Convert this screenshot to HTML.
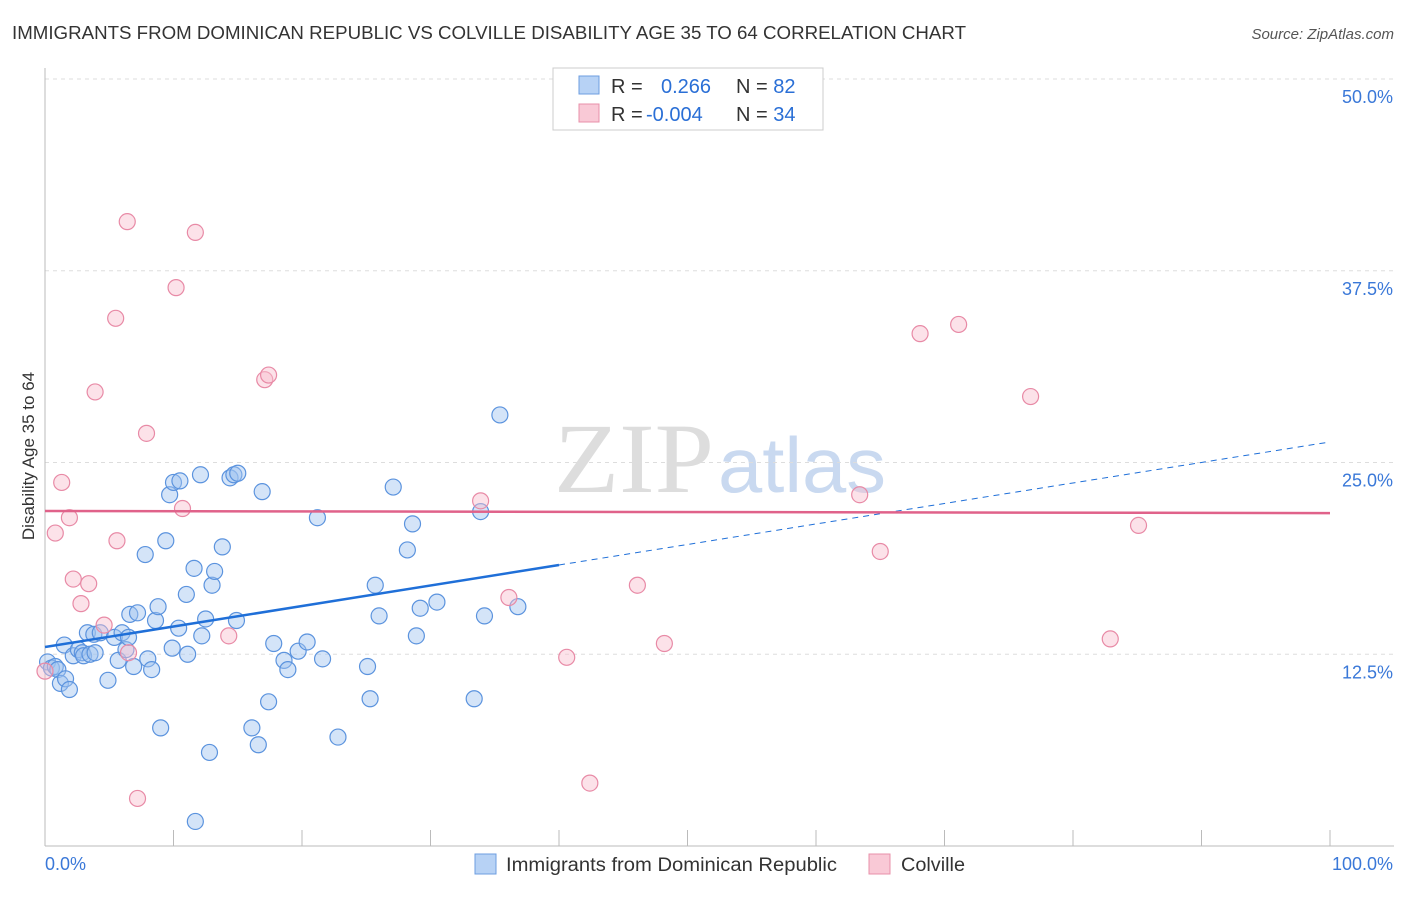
<!DOCTYPE html>
<html><head><meta charset="utf-8"><style>
body{margin:0;background:#fff;font-family:"Liberation Sans",sans-serif}
</style></head><body>
<svg id="c" width="1406" height="892" xmlns="http://www.w3.org/2000/svg">
<text x="12" y="39" font-size="18" fill="#333" textLength="954" lengthAdjust="spacingAndGlyphs">IMMIGRANTS FROM DOMINICAN REPUBLIC VS COLVILLE DISABILITY AGE 35 TO 64 CORRELATION CHART</text>
<text x="1394" y="39" font-size="15" fill="#555" font-style="italic" text-anchor="end">Source: ZipAtlas.com</text>
<text x="554" y="492" font-size="100" fill="#ddd" textLength="160" lengthAdjust="spacingAndGlyphs" font-family="Liberation Serif">ZIP</text>
<text x="718" y="492" font-size="78" fill="#c9d9f0" textLength="168" lengthAdjust="spacingAndGlyphs">atlas</text>
<text transform="translate(34,456) rotate(-90)" font-size="17" fill="#333" text-anchor="middle">Disability Age 35 to 64</text>
<g id="grid"></g><g id="axes"></g><g id="pts"></g><g id="lines"></g>
<g>
<rect x="553" y="68" width="270" height="62" fill="#fff" stroke="#ccc"/>
<rect x="579" y="76" width="20" height="18" fill="#b7d2f5" stroke="#6c9ee0"/>
<rect x="579" y="104" width="20" height="18" fill="#f9c9d6" stroke="#e890aa"/>
<text x="611" y="93" font-size="20" fill="#333">R = <tspan fill="#2a6fd6" x="661">0.266</tspan><tspan x="736">N = </tspan><tspan fill="#2a6fd6">82</tspan></text>
<text x="611" y="121" font-size="20" fill="#333">R = <tspan fill="#2a6fd6" x="646">-0.004</tspan><tspan x="736">N = </tspan><tspan fill="#2a6fd6">34</tspan></text>
</g>
<g>
<rect x="475" y="854" width="21" height="20" fill="#b7d2f5" stroke="#6c9ee0"/>
<text x="506" y="871" font-size="19" fill="#333" textLength="331" lengthAdjust="spacingAndGlyphs">Immigrants from Dominican Republic</text>
<rect x="869" y="854" width="21" height="20" fill="#f9c9d6" stroke="#e890aa"/>
<text x="901" y="871" font-size="19" fill="#333" textLength="64" lengthAdjust="spacingAndGlyphs">Colville</text>
</g>
</svg>
<script>
const yTicks=[12.5,25,37.5,50];
const yTickLabels=["12.5%","25.0%","37.5%","50.0%"];
const blueX=[0.2,0.5,0.8,1.0,1.2,1.6,1.9,1.5,2.2,2.6,2.9,3.0,3.5,3.9,3.3,3.8,4.3,4.9,5.4,5.7,6.0,6.3,6.5,6.6,7.2,6.9,7.8,8.0,8.3,8.6,8.8,9.0,9.4,9.7,10.0,10.5,10.4,9.9,11.0,11.1,11.6,11.7,12.1,12.2,12.5,12.8,13.0,13.2,13.8,14.4,14.7,15.0,14.9,16.1,16.6,16.9,17.4,17.8,18.6,18.9,19.7,20.4,21.2,21.6,22.8,25.1,25.3,25.7,26.0,27.1,28.2,28.6,28.9,29.2,30.5,33.4,33.9,34.2,35.4,36.8];
const blueY=[12.0,11.6,11.7,11.5,10.6,10.9,10.2,13.1,12.4,12.8,12.6,12.4,12.5,12.6,13.9,13.8,13.9,10.8,13.6,12.1,13.9,12.8,13.6,15.1,15.2,11.7,19.0,12.2,11.5,14.7,15.6,7.7,19.9,22.9,23.7,23.8,14.2,12.9,16.4,12.5,18.1,1.6,24.2,13.7,14.8,6.1,17.0,17.9,19.5,24.0,24.2,24.3,14.7,7.7,6.6,23.1,9.4,13.2,12.1,11.5,12.7,13.3,21.4,12.2,7.1,11.7,9.6,17.0,15.0,23.4,19.3,21.0,13.7,15.5,15.9,9.6,21.8,15.0,28.1,15.6];
const pinkX=[0,0.8,1.3,1.9,2.2,2.8,3.4,3.9,4.6,5.5,5.6,6.4,6.5,7.2,7.9,10.2,10.7,11.7,14.3,17.1,17.4,33.9,36.1,40.6,42.4,46.1,48.2,63.4,65.0,68.1,71.1,76.7,82.9,85.1];
const pinkY=[11.4,20.4,23.7,21.4,17.4,15.8,17.1,29.6,14.4,34.4,19.9,40.7,12.6,3.1,26.9,36.4,22.0,40.0,13.7,30.4,30.7,22.5,16.2,12.3,4.1,17.0,13.2,22.9,19.2,33.4,34.0,29.3,13.5,20.9];
const blueTrend=[12.97,26.34];
const pinkTrend=[21.84,21.7];
const NS="http://www.w3.org/2000/svg";
const X=v=>45+v*12.85, Y=v=>846-v*15.34;
function mk(t,a,p){const e=document.createElementNS(NS,t);for(const k in a)e.setAttribute(k,a[k]);document.getElementById(p).appendChild(e);return e;}
yTicks.forEach((t,i)=>{
 const g=mk('line',{x1:45,x2:1394,y1:Y(t),y2:Y(t),stroke:'#ddd','stroke-dasharray':'4,4'},'grid');
 
 
 const l=mk('text',{x:1393,y:Y(t)+24,'font-size':18,fill:'#3a78d8','text-anchor':'end'},'grid');
 l.textContent=yTickLabels[i];
 
 
});
const ax=mk('line',{x1:45,x2:45,y1:68,y2:846,stroke:'#bbb'},'axes');


const bx=mk('line',{x1:45,x2:1394,y1:846,y2:846,stroke:'#bbb'},'axes');


for(let i=0;i<=10;i++){
 const t=mk('line',{x1:X(i*10),x2:X(i*10),y1:830,y2:846,stroke:'#bbb'},'axes');
 
 
}
const x0=mk('text',{x:45,y:870,'font-size':18,fill:'#3a78d8'},'axes');x0.textContent='0.0%';


const x1=mk('text',{x:1393,y:870,'font-size':18,fill:'#3a78d8','text-anchor':'end'},'axes');x1.textContent='100.0%';


blueX.forEach((v,i)=>{
 const c=mk('circle',{cx:X(v),cy:Y(blueY[i]),r:8,fill:'rgba(160,196,240,0.45)',stroke:'#5b93de','stroke-width':1.2},'pts');
 
 
});
pinkX.forEach((v,i)=>{
 const c=mk('circle',{cx:X(v),cy:Y(pinkY[i]),r:8,fill:'rgba(248,190,206,0.45)',stroke:'#e88aa6','stroke-width':1.2},'pts');
 
 
});
const bAt=x=>blueTrend[0]+(blueTrend[1]-blueTrend[0])*x/100;
const b1=mk('line',{x1:X(0),y1:Y(bAt(0)),x2:X(40),y2:Y(bAt(40)),stroke:'#1f6fd8','stroke-width':2.5},'lines');


const b2=mk('line',{x1:X(40),y1:Y(bAt(40)),x2:X(100),y2:Y(bAt(100)),stroke:'#1f6fd8','stroke-width':1,'stroke-dasharray':'6,5'},'lines');


const p1=mk('line',{x1:X(0),y1:Y(pinkTrend[0]),x2:X(100),y2:Y(pinkTrend[1]),stroke:'#e0628a','stroke-width':2.5},'lines');


</script>
</body></html>
